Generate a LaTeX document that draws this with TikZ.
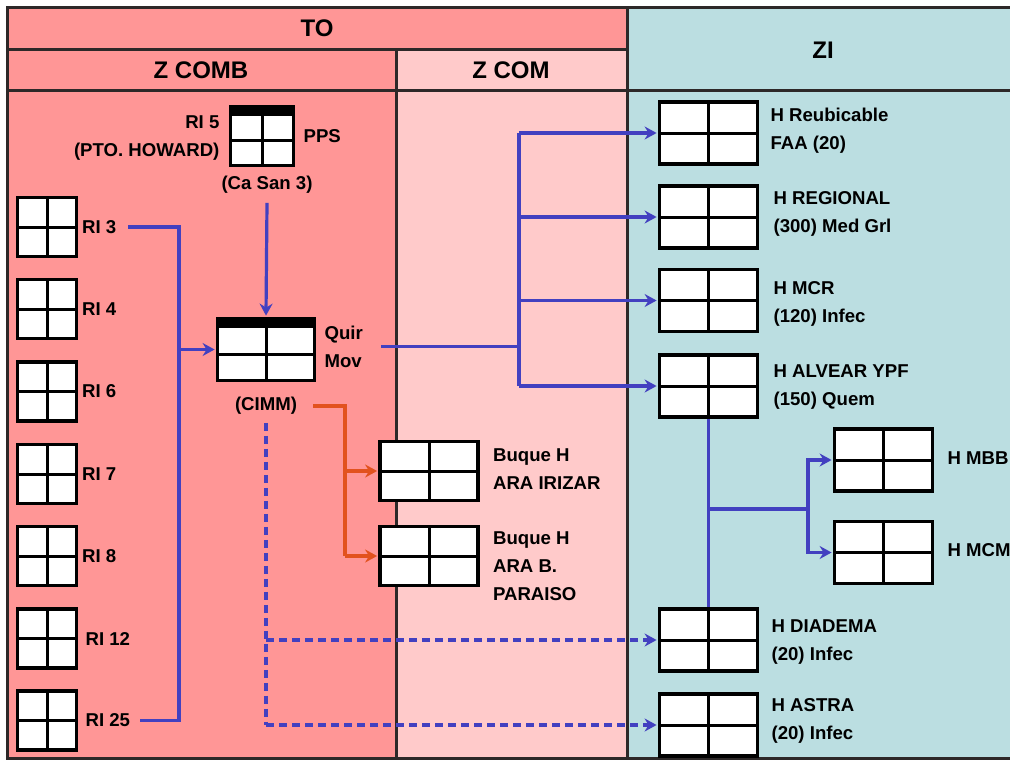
\documentclass[tikz,border=0pt]{standalone}
\usepackage{fontspec}
\setmainfont{Liberation Sans}
\usetikzlibrary{arrows.meta,calc}
\definecolor{toRed}{RGB}{255,150,150}
\definecolor{comPink}{RGB}{255,202,202}
\definecolor{ziBlue}{RGB}{187,222,225}
\definecolor{lnBlue}{RGB}{66,64,192}
\definecolor{lnOrange}{RGB}{226,82,30}
\definecolor{frameGray}{RGB}{45,40,40}
\begin{document}
\begin{tikzpicture}[x=1pt,y=-1pt,
  hdr/.style={draw=frameGray,line width=3pt},
  htext/.style={font=\bfseries\fontsize{24pt}{28pt}\selectfont,inner sep=0pt},
  lbl/.style={font=\bfseries\fontsize{18.6pt}{28pt}\selectfont,inner sep=0pt,align=left},
  gridbox/.style={rectangle,draw=black,line width=3.8pt,fill=white,inner sep=0pt,
    minimum width=98pt,minimum height=62pt,
    path picture={\draw[line width=3pt]
      (path picture bounding box.north) -- (path picture bounding box.south)
      (path picture bounding box.west) -- (path picture bounding box.east);}},
  ribox/.style={gridbox,minimum width=59pt,minimum height=59pt},
  barbox/.style={rectangle,draw=black,line width=3.8pt,fill=white,inner sep=0pt,
    path picture={
      \fill[black] (path picture bounding box.north west) rectangle ([yshift=-9.5pt]path picture bounding box.north east);
      \draw[line width=3pt] ([yshift=-9.5pt]path picture bounding box.north) -- (path picture bounding box.south);
      \draw[line width=3pt] ([yshift=-4.75pt]path picture bounding box.west) -- ([yshift=-4.75pt]path picture bounding box.east);}},
  bl/.style={draw=lnBlue,line width=3.2pt},
  blarrow/.style={bl,-{Stealth[length=12pt,width=13pt,inset=4pt]}},
  bldash/.style={bl,dash pattern=on 8pt off 5pt},
  ol/.style={draw=lnOrange,line width=3.2pt},
  olarrow/.style={ol,-{Stealth[length=12pt,width=13pt,inset=4pt]}}
]
\useasboundingbox (0,0) rectangle (1010,761);
\fill[white] (0,0) rectangle (1010,761);
% zone backgrounds
\fill[toRed] (7,7) rectangle (627,758);
\fill[comPink] (396,49) rectangle (627,758);
\fill[ziBlue] (627,7) rectangle (1022,758);
% zone lines
\draw[hdr] (7,7) rectangle (1022,758);
\draw[hdr] (7,49) -- (627,49);
\draw[hdr] (7,90) -- (1022,90);
\draw[hdr] (396,49) -- (396,758);
\draw[hdr] (627,7) -- (627,758);
% headers
\node[htext] (hTO) at (317,28) {TO};
\node[htext] (hZCOMB) at (201,70) {Z COMB};
\node[htext] (hZCOM) at (511,70) {Z COM};
\node[htext] (hZI) at (823,50) {ZI};

% RI column
\node[ribox] (ri3) at (47,227) {};
\node[ribox] (ri4) at (47,309) {};
\node[ribox] (ri6) at (47,391.5) {};
\node[ribox] (ri7) at (47,474) {};
\node[ribox] (ri8) at (47,556) {};
\node[ribox] (ri12) at (47,638.5) {};
\node[ribox] (ri25) at (47,720.5) {};
\node[lbl,anchor=west] (l3) at ([xshift=3.5pt]ri3.east) {RI 3};
\node[lbl,anchor=west] (l4) at ([xshift=3.5pt]ri4.east) {RI 4};
\node[lbl,anchor=west] (l6) at ([xshift=3.5pt]ri6.east) {RI 6};
\node[lbl,anchor=west] (l7) at ([xshift=3.5pt]ri7.east) {RI 7};
\node[lbl,anchor=west] (l8) at ([xshift=3.5pt]ri8.east) {RI 8};
\node[lbl,anchor=west] (l12) at ([xshift=7pt]ri12.east) {RI 12};
\node[lbl,anchor=west] (l25) at ([xshift=7pt]ri25.east) {RI 25};

% PPS
\node[barbox,minimum width=63pt,minimum height=59pt] (pps) at (262,136) {};
\node[lbl,anchor=east,align=right] (ri5) at ([xshift=-9pt,yshift=-2pt]pps.west) {RI 5\\(PTO. HOWARD)};
\node[lbl,anchor=west] (ppsl) at ([xshift=8pt]pps.east) {PPS};
\node[lbl] (casan) at (267,185) {(Ca San 3)};

% Quir Mov
\node[barbox,minimum width=97pt,minimum height=62pt] (quir) at (266,349.5) {};
\node[lbl,anchor=west] (quirl) at ([xshift=8pt,yshift=3pt]quir.east) {Quir\\Mov};
\node[lbl] (cimm) at (266,406) {(CIMM)};

% Z COM ships
\node[gridbox,minimum height=59pt] (irizar) at (429,471) {};
\node[gridbox,minimum height=59pt] (paraiso) at (429,556) {};
\node[lbl,anchor=west] (irizarl) at ([xshift=13pt,yshift=2pt]irizar.east) {Buque H\\ARA IRIZAR};
\node[lbl,anchor=west] (paraisol) at ([xshift=13pt,yshift=-10pt]paraiso.east) {Buque H\\ARA B.\\PARAISO};

% ZI hospitals
\node[gridbox] (faa) at (708.5,133) {};
\node[gridbox] (reg) at (708.5,217) {};
\node[gridbox] (mcr) at (708.5,300.5) {};
\node[gridbox] (alv) at (708.5,386) {};
\node[gridbox] (dia) at (708.5,640) {};
\node[gridbox] (ast) at (708.5,725) {};
\node[gridbox] (mbb) at (883.5,460) {};
\node[gridbox] (mcm) at (883.5,552.5) {};
\node[lbl,anchor=west] (faal) at ([xshift=11pt,yshift=2pt]faa.east) {H Reubicable\\FAA (20)};
\node[lbl,anchor=west] (regl) at ([xshift=14pt,yshift=3pt]reg.east) {H REGIONAL\\(300) Med Grl};
\node[lbl,anchor=west] (mcrl) at ([xshift=14pt,yshift=-3pt]mcr.east) {H MCR\\(120) Infec};
\node[lbl,anchor=west] (alvl) at ([xshift=14pt,yshift=-1pt]alv.east) {H ALVEAR YPF\\(150) Quem};
\node[lbl,anchor=west] (dial) at ([xshift=12pt,yshift=-2pt]dia.east) {H DIADEMA\\(20) Infec};
\node[lbl,anchor=west] (astl) at ([xshift=12pt,yshift=4pt]ast.east) {H ASTRA\\(20) Infec};
\node[lbl,anchor=west] (mbbl) at ([xshift=13pt,yshift=2pt]mbb.east) {H MBB};
\node[lbl,anchor=west] (mcml) at ([xshift=13pt,yshift=2pt]mcm.east) {H MCM};

% bus coordinates
\coordinate (busL) at (179,0);
\coordinate (busR) at (519,0);
\coordinate (obus) at (345,0);
\coordinate (brB) at (808,509);

% RI bus to Quir Mov
\draw[bl] ([xshift=12pt]l3.east) -- (l3.east -| busL) -- (l25.east -| busL) -- ([xshift=10pt]l25.east);
\draw[blarrow] (busL |- quir.west) -- ([xshift=-1pt]quir.west);
% PPS to Quir Mov
\draw[blarrow] ([yshift=-9pt]casan.south) -- ([yshift=1pt]quir.north);
% Quir Mov to ZI
\draw[bl] ([xshift=18pt]quirl.east) -- (quirl.east -| busR);
\draw[bl] (faa.west -| busR) -- (alv.west -| busR);
\draw[blarrow] (faa.west -| busR) -- ([xshift=-1pt]faa.west);
\draw[blarrow] (reg.west -| busR) -- ([xshift=-1pt]reg.west);
\draw[blarrow] (mcr.west -| busR) -- ([xshift=-1pt]mcr.west);
\draw[blarrow] (alv.west -| busR) -- ([xshift=-1pt]alv.west);
% ALVEAR - DIADEMA and branch
\draw[bl] (alv.south) -- (dia.north);
\draw[bl] (alv.south |- brB) -- (brB);
\draw[blarrow] (brB) |- ([xshift=-1pt]mbb.west);
\draw[blarrow] (brB) |- ([xshift=-1pt]mcm.west);
% CIMM to ships
\draw[ol] ([xshift=16pt]cimm.east) -- (cimm.east -| obus) -- (paraiso.west -| obus);
\draw[olarrow] (irizar.west -| obus) -- ([xshift=-1pt]irizar.west);
\draw[olarrow] (paraiso.west -| obus) -- ([xshift=-1pt]paraiso.west);
% dashed CIMM
\draw[bldash] ([yshift=-8pt]cimm.south) -- (cimm.south |- ast.west);
\draw[bldash,-{Stealth[length=12pt,width=13pt,inset=4pt]}] (cimm.south |- dia.west) -- ([xshift=-1pt]dia.west);
\draw[bldash,-{Stealth[length=12pt,width=13pt,inset=4pt]}] (cimm.south |- ast.west) -- ([xshift=-1pt]ast.west);
\end{tikzpicture}
\end{document}
